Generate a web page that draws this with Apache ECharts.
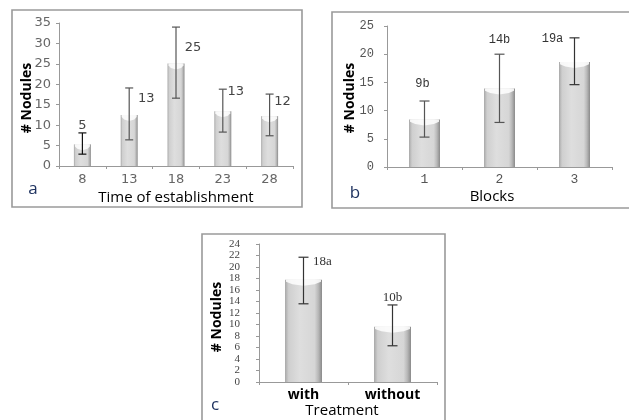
<!DOCTYPE html>
<html><head><meta charset="utf-8">
<script src="https://cdn.jsdelivr.net/npm/echarts@6/dist/echarts.min.js"></script>
<style>html,body{margin:0;padding:0;background:#fff}#c{width:629px;height:420px}</style>
</head><body><div id="c"></div>
<script>
// Panel a: Time of establishment
const catsA = ['8', '13', '18', '23', '28'];
const valsA = [5.3, 12.5, 25.1, 13.4, 12.2];
const lowA = [2.9, 6.4, 16.6, 8.3, 7.4];
const highA = [8.1, 19.1, 34.0, 18.8, 17.6];
const labelsA = ['5', '13', '25', '13', '12'];
const ticksA = { min: 0, max: 35, interval: 5 };

// Panel b: Blocks
const catsB = ['1', '2', '3'];
const valsB = [8.4, 13.9, 18.6];
const lowB = [5.3, 7.9, 14.6];
const highB = [11.7, 20.0, 22.9];
const labelsB = ['9b', '14b', '19a'];
const ticksB = { min: 0, max: 25, interval: 5 };

// Panel c: Treatment
const catsC = ['with', 'without'];
const valsC = [17.8, 9.6];
const lowC = [13.6, 6.3];
const highC = [21.7, 13.4];
const labelsC = ['18a', '10b'];
const ticksC = { min: 0, max: 24, interval: 2 };

// styles (pixel offsets of value labels from the error-bar top, bar widths, colours)
const styleA = { barW: 17, cap: 8, errColors: ['#111', '#555', '#555', '#555', '#555'],
  lblOff: [[0, -7], [17, 11], [17, 21], [13, 2], [13, 8]], lblFont: '13px "DejaVu Sans"', lblColor: '#444' };
const styleB = { barW: 31, cap: 10, errColors: ['#555', '#555', '#333'],
  lblOff: [[-2, -17], [0, -14], [-22, 1]], lblFont: '12px "Liberation Mono"', lblColor: '#333' };
const styleC = { barW: 37, cap: 10, errColors: ['#333', '#333'],
  lblOff: [[19, 4], [0, -7]], lblFont: '13px "Liberation Serif"', lblColor: '#333' };

function barFill() {
  return new echarts.graphic.LinearGradient(0, 0, 1, 0, [
    { offset: 0, color: '#a8a8a8' }, { offset: 0.1, color: '#cfcfcf' },
    { offset: 0.4, color: '#dedede' }, { offset: 0.8, color: '#d6d6d6' },
    { offset: 0.9, color: '#b8b8b8' }, { offset: 1, color: '#8a8a8a' }]);
}

function makeSeries(idx, vals, low, high, labels, st) {
  const data = vals.map((v, i) => [i, v, low[i], high[i]]);
  return [{
    type: 'custom', xAxisIndex: idx, yAxisIndex: idx, data: data, z: 2,
    renderItem: function (params, api) {
      const i = api.value(0);
      const top = api.coord([i, api.value(1)]);
      const base = api.coord([i, 0]);
      const w = st.barW, x0 = top[0] - w / 2, x1 = top[0] + w / 2;
      const h = base[1] - top[1];
      const d = Math.min(6, h * 0.4);
      return { type: 'group', children: [
        { type: 'rect', shape: { x: x0, y: top[1], width: w, height: h }, style: { fill: barFill() } },
        { type: 'polygon', shape: { points: [[x0 + 1, top[1]], [x1 - 1, top[1]], [x1 - 1, top[1] + d * 0.35], [x1 - w * 0.2, top[1] + d * 0.75], [top[0], top[1] + d], [x0 + w * 0.2, top[1] + d * 0.75], [x0 + 1, top[1] + d * 0.35]] },
          style: { fill: 'rgba(255,255,255,0.85)' } }
      ]};
    }
  }, {
    type: 'custom', xAxisIndex: idx, yAxisIndex: idx, data: data, z: 3,
    renderItem: function (params, api) {
      const i = api.value(0);
      const hi = api.coord([i, api.value(3)]);
      const lo = api.coord([i, api.value(2)]);
      const c = st.errColors[i], h = st.cap / 2;
      const off = st.lblOff[i];
      return { type: 'group', children: [
        { type: 'line', shape: { x1: hi[0], y1: hi[1], x2: lo[0], y2: lo[1] }, style: { stroke: c, lineWidth: 1.2 } },
        { type: 'line', shape: { x1: hi[0] - h, y1: hi[1], x2: hi[0] + h, y2: hi[1] }, style: { stroke: c, lineWidth: 1.2 } },
        { type: 'line', shape: { x1: lo[0] - h, y1: lo[1], x2: lo[0] + h, y2: lo[1] }, style: { stroke: c, lineWidth: 1.2 } },
        { type: 'text', x: hi[0] + off[0], y: hi[1] + off[1],
          style: { text: labels[i], font: st.lblFont, fill: st.lblColor, align: 'center', verticalAlign: 'middle' } }
      ]};
    }
  }];
}

const axisLine = { show: true, lineStyle: { color: '#999', width: 1 } };
function xAx(idx, cats, font, color, margin, weight) {
  return { type: 'category', gridIndex: idx, data: cats, axisLine: axisLine,
    axisTick: { show: true, length: 3, lineStyle: { color: '#999' } },
    axisLabel: { fontFamily: font, fontSize: weight ? 14 : 13, fontWeight: weight || 'normal', color: color, margin: margin, interval: 0 } };
}
function yAx(idx, t, font, size, color, margin) {
  return { type: 'value', gridIndex: idx, min: t.min, max: t.max, interval: t.interval,
    axisLine: axisLine, axisTick: { show: true, length: 3, lineStyle: { color: '#999' } },
    splitLine: { show: false },
    axisLabel: { fontFamily: font, fontSize: size, color: color, margin: margin,
      showMinLabel: true, showMaxLabel: true, hideOverlap: false } };
}

function txt(text, x, y, opts) {
  return Object.assign({ type: 'text', x: x, y: y, z: 10,
    style: Object.assign({ text: text, align: 'center', verticalAlign: 'middle', fill: '#000',
      font: '15px "Open Sans"' }, opts.style || {}) }, opts.rotation !== undefined ? { rotation: opts.rotation } : {});
}

const chart = echarts.init(document.getElementById('c'), null, { renderer: 'canvas' });
chart.setOption({
  animation: false,
  backgroundColor: '#fff',
  grid: [
    { left: 59, right: 629 - 293, top: 23, bottom: 420 - 166 },
    { left: 387, right: 629 - 612, top: 26, bottom: 420 - 167 },
    { left: 259, right: 629 - 437, top: 244, bottom: 420 - 382 }
  ],
  xAxis: [
    xAx(0, catsA, 'DejaVu Sans', '#666', 7),
    xAx(1, catsB, 'Liberation Mono', '#555', 6),
    xAx(2, catsC, 'Open Sans', '#000', 6, 'bold')
  ],
  yAxis: [
    yAx(0, ticksA, 'DejaVu Sans', 13, '#666', 8),
    yAx(1, ticksB, 'Liberation Mono', 12, '#555', 13),
    yAx(2, ticksC, 'Liberation Serif', 11, '#444', 19)
  ],
  series: [].concat(
    makeSeries(0, valsA, lowA, highA, labelsA, styleA),
    makeSeries(1, valsB, lowB, highB, labelsB, styleB),
    makeSeries(2, valsC, lowC, highC, labelsC, styleC)
  ),
  graphic: [
    { type: 'rect', shape: { x: 12, y: 10, width: 290, height: 197 }, style: { fill: 'none', stroke: '#9a9a9a', lineWidth: 1.6 }, z: 0 },
    { type: 'rect', shape: { x: 332, y: 12, width: 320, height: 196 }, style: { fill: 'none', stroke: '#9a9a9a', lineWidth: 1.6 }, z: 0 },
    { type: 'rect', shape: { x: 202, y: 234, width: 243, height: 200 }, style: { fill: 'none', stroke: '#9a9a9a', lineWidth: 1.6 }, z: 0 },
    txt('# Nodules', 27, 98, { rotation: Math.PI / 2, style: { font: 'bold 14px "Open Sans"' } }),
    txt('# Nodules', 350, 98, { rotation: Math.PI / 2, style: { font: 'bold 14px "Open Sans"' } }),
    txt('# Nodules', 217, 317, { rotation: Math.PI / 2, style: { font: 'bold 14px "Open Sans"' } }),
    txt('Time of establishment', 176, 198, {}),
    txt('Blocks', 492, 197, {}),
    txt('Treatment', 342, 411, {}),
    txt('a', 33, 189, { style: { font: '17px "Open Sans"', fill: '#1f3360' } }),
    txt('b', 355, 193, { style: { font: '17px "Open Sans"', fill: '#1f3360' } }),
    txt('c', 215, 405, { style: { font: '17px "Open Sans"', fill: '#1f3360' } })
  ]
});
</script>
</body></html>
